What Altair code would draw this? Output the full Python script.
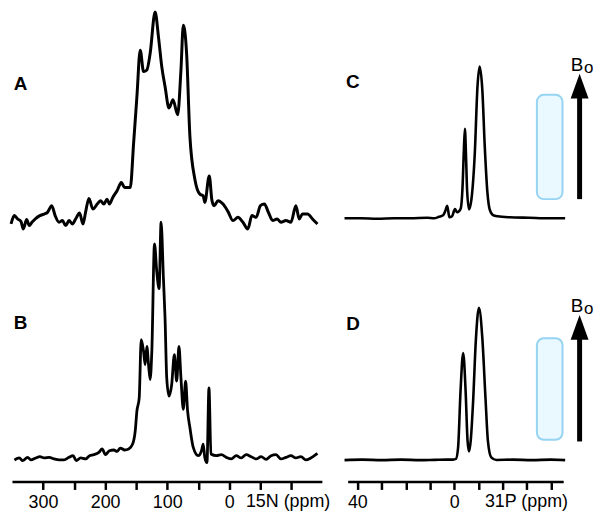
import altair as alt
import pandas as pd

# ---------------- data ----------------
# Panel A: 15N spectrum (ppm, intensity a.u.)
A_ppm = [351.5, 346.1, 340.8, 335.5, 331.7, 326.4, 322.1, 317.9, 311.5, 305.1, 298.1, 292.8, 285.9, 280.5,
         274.1, 268.8, 263.5, 258.1, 252.8, 247.5, 241.1, 235.7, 231.5, 226.1, 219.7, 212.8, 207.5, 202.1,
         196.8, 193.1, 187.7, 180.8, 173.9, 168.5, 162.1, 159.5, 154.1, 148.8, 143.5, 138.1, 132.8, 127.5,
         119.5, 114.1, 108.8, 103.5, 97.1, 90.7, 83.2, 77.9, 74.1, 68.8, 63.5, 55.5, 47.5, 42.1, 39.5, 32.3,
         28.0, 24.5, 18.1, 10.1, 2.1, -5.9, -13.9, -21.9, -29.9, -36.3, -43.2, -50.1, -56.5, -62.9, -69.9,
         -76.8, -83.2, -91.2, -99.2, -107.2, -112.5, -117.9, -125.9, -133.9, -141.9]
A_int = [-1.7, 6.7, 3.3, 0.7, -6.7, 2.7, -3.3, 0, 4, 6.7, 8.3, 10, 16.7, 6.7, 0, 1.7, -3.3, 1.7, -1.7, 3.3,
         9.3, -1.7, 10, 24, 13.3, 18.3, 21.7, 18.3, 23.3, 18.3, 25, 31.7, 40, 35, 35, 35, 80, 126.7, 173.3,
         151.7, 153.3, 170, 211.7, 186.7, 156.7, 136.7, 115, 123.3, 108.3, 153.3, 198.3, 170, 86.7, 43.3,
         28.3, 26.7, 20, 46.7, 22, 16.7, 21.7, 18.3, 10.7, 1.7, 5, 0, -6.7, 6.7, 5, 16.7, 18.3, 10, 1.7, 3.3,
         0, 1.7, 0, 16.7, 3.3, 8.3, 8.3, 3.3, -1.7]

# Panel B: 15N spectrum
B_ppm = [346.1, 338.1, 332.8, 324.8, 319.5, 311.5, 305.1, 298.1, 290.1, 282.1, 274.1, 266.1, 258.1, 251.7,
         246.4, 239.5, 231.5, 225.1, 218.1, 210.1, 204.8, 199.5, 193.1, 186.1, 180.8, 175.5, 168.5, 162.1,
         155.7, 151.5, 148.8, 145.1, 141.9, 138.1, 135.5, 132.8, 130.1, 127.5, 124.8, 120.5, 116.8, 113.1,
         109.9, 106.1, 103.5, 100.8, 97.1, 92.8, 88.5, 84.8, 81.1, 77.9, 74.1, 70.4, 67.2, 63.5, 58.1, 50.1,
         44.8, 42.1, 39.5, 36.0, 32.8, 29.6, 20.8, 12.8, 4.8, -3.2, -11.2, -19.2, -27.2, -35.2, -43.2, -51.2,
         -59.2, -67.2, -75.2, -83.2, -91.2, -99.2, -107.2, -115.2, -123.2, -131.2, -139.2, -141.9]
B_int = [0.7, 2.7, 0, 3.3, 0.7, 2.7, 4, 2.7, 3.3, 1.7, 0.7, 0.7, 3.3, 5, 0, 2.7, 1.7, 5, 6, 8.3, 11.7, 6,
         10, 10.7, 9.3, 12.7, 10.7, 11.7, 16.7, 30, 50, 63.3, 121.7, 110, 96.7, 115, 96.7, 81.7, 110, 218.3,
         190, 173.3, 240, 183.3, 143.3, 83.3, 65, 76.7, 106.7, 80, 115, 83.3, 51.7, 80, 50, 33.3, 13.3, 5,
         10, 16.7, 3.3, -2, 73.3, 6.7, 5, 6, 3.3, 1.7, 5, 2.7, 6, 4, 1.7, 4, 1.3, 5, 6, 1.7, 3.3, 5, 2.7, 4,
         0.7, 2.7, 6, 7.3]

# Panel C: 31P spectrum
C_ppm = [45.3, 38.7, 31.7, 24.7, 18.2, 11.2, 8.3, 6.3, 4.6, 3.6, 2.9, 2.0, 0.9, -0.3, -1.2, -1.9, -2.7,
         -3.4, -4.0, -4.4, -4.9, -5.3, -6.1, -7.1, -8.5, -9.6, -10.5, -11.6, -12.6, -13.7, -14.6, -16.0,
         -17.9, -22.8, -31.0, -39.2, -45.8]
C_int = [0, 0, -0.5, 0, 0, 0.5, 0, 1.5, 3, 8, 12.7, 1, 2, 9.3, 6, 7, 10, 30, 70, 90, 60, 29, 9, 19, 66,
         132.7, 152.7, 129.3, 72.7, 26, 9.3, 3.3, 2, 1, 0.5, 0, 0]

# Panel D: 31P spectrum
D_ppm = [45.3, 38.0, 30.0, 22.0, 14.0, 8.0, 3.0, 0.5, -0.7, -1.6, -2.6, -3.7, -4.7, -5.5, -6.1, -6.8, -7.8,
         -8.9, -10.2, -11.6, -12.9, -13.9, -15.3, -17.4, -24.0, -32.0, -40.0, -45.8]
D_int = [0, 0.5, 0, 0.5, 0, 0.3, 0.5, 0.5, 1.2, 12.8, 69.5, 107.8, 69.5, 19.5, 8.8, 19.5, 59.5, 119.5,
         153.5, 122.8, 62.8, 19.5, 2.8, 0.2, 0.5, 0, 0.5, 0]

N_TICKS = [300, 250, 200, 150, 100, 50, 0, -50, -100]
N_LABELED = [300, 200, 100, 0]
P_TICKS = [40, 30, 20, 10, 0, -10, -20, -30, -40]
P_LABELED = [40, 0]
PANEL_LABELS = ["A", "B", "C", "D"]
AXIS_TITLES = ["15N (ppm)", "31P (ppm)"]
FIELD_LABEL = ["B", "o"]

# ---------------- styling / layout ----------------
FONT = "Liberation Sans"
LW, RW = 312, 217
TH, BH = 222, 251


def axis_for(ticks, labeled):
    arr = "[" + ",".join(str(v) for v in labeled) + "]"
    return alt.Axis(values=ticks, labelExpr=f"indexof({arr}, datum.value) >= 0 ? datum.label : ''",
                    title=None, grid=False, domainWidth=2.5, tickWidth=2.5, tickSize=8,
                    labelFontSize=18, labelFont=FONT, labelPadding=4, domainColor="black",
                    tickColor="black", labelColor="black", labelFlush=False, labelOverlap=False)


def spectrum(ppm, inten, xdom, ydom, sw, axis):
    df = pd.DataFrame({"ppm": ppm, "i": inten})
    return alt.Chart(df).mark_line(color="black", strokeWidth=sw, interpolate="monotone",
                                   strokeJoin="round").encode(
        x=alt.X("ppm:Q", scale=alt.Scale(domain=xdom, reverse=True, nice=False, zero=False), axis=axis),
        y=alt.Y("i:Q", scale=alt.Scale(domain=ydom, nice=False, zero=False), axis=None),
    )


def text(txt, x, y, size, bold=False, align="center", baseline="middle"):
    return alt.Chart(pd.DataFrame({"t": [txt]})).mark_text(
        font=FONT, fontSize=size, fontWeight="bold" if bold else "normal", align=align,
        baseline=baseline, color="black").encode(text="t:N", x=alt.value(x), y=alt.value(y))


def sample_box(y1, y2):
    return alt.Chart(pd.DataFrame({"k": [0]})).mark_rect(
        cornerRadius=7, fill="#eaf8ff", stroke="#96d4f3", strokeWidth=2).encode(
        x=alt.value(190.5), x2=alt.value(216.3), y=alt.value(y1), y2=alt.value(y2))


def field_arrow(tip, bottom):
    shaft = alt.Chart(pd.DataFrame({"k": [0]})).mark_rule(color="black", strokeWidth=5).encode(
        x=alt.value(233.5), y=alt.value(tip + 20), y2=alt.value(bottom))
    head = alt.Chart(pd.DataFrame({"k": [0]})).mark_point(
        shape="M-0.72,1L0.72,1L0,-1Z", filled=True, size=25 * 25, color="black", opacity=1,
        strokeWidth=0).encode(x=alt.value(233.5), y=alt.value(tip + 12.5))
    b = text(FIELD_LABEL[0], 224.5, tip - 3, 19, align="left", baseline="alphabetic")
    o = text(FIELD_LABEL[1], 238, tip - 1, 17, align="left", baseline="alphabetic")
    return [shaft, head, b, o]


panel_a = alt.layer(
    spectrum(A_ppm, A_int, [-149, 350], [-10, 212], 3, None),
    text(PANEL_LABELS[0], 8.7, 72.5, 19, bold=True),
).properties(width=LW, height=TH)

panel_b = alt.layer(
    spectrum(B_ppm, B_int, [-149, 350], [-21, 230], 2.8, axis_for(N_TICKS, N_LABELED)),
    text(PANEL_LABELS[1], 8.7, 91.7, 19, bold=True),
    text(AXIS_TITLES[0], 278, 263, 18, baseline="top"),
).properties(width=LW, height=BH)

panel_c = alt.layer(
    sample_box(83.7, 188.7),
    *field_arrow(62.5, 188.7),
    spectrum(C_ppm, C_int, [-45, 44], [-14, 208], 2.6, None),
    text(PANEL_LABELS[2], 5.2, 70.8, 19, bold=True),
).properties(width=RW, height=TH)

panel_d = alt.layer(
    sample_box(106.7, 209),
    *field_arrow(83.3, 210.7),
    spectrum(D_ppm, D_int, [-45, 44], [-21.5, 229.5], 2.6, axis_for(P_TICKS, P_LABELED)),
    text(PANEL_LABELS[3], 5.5, 92.2, 19, bold=True),
    text(AXIS_TITLES[1], 180, 263, 18, baseline="top"),
).properties(width=RW, height=BH)

chart = alt.ConcatChart(
    concat=[panel_a, panel_c, panel_b, panel_d], columns=2,
    spacing={"row": 0, "column": 26}, bounds="flush",
    padding={"left": 1, "top": 0, "right": 0, "bottom": 0},
).configure(
    background="white",
    view=alt.ViewConfig(stroke=None),
    axis=alt.AxisConfig(grid=False),
)

chart.save("out.html", embed_options={"renderer": "svg", "actions": False})
